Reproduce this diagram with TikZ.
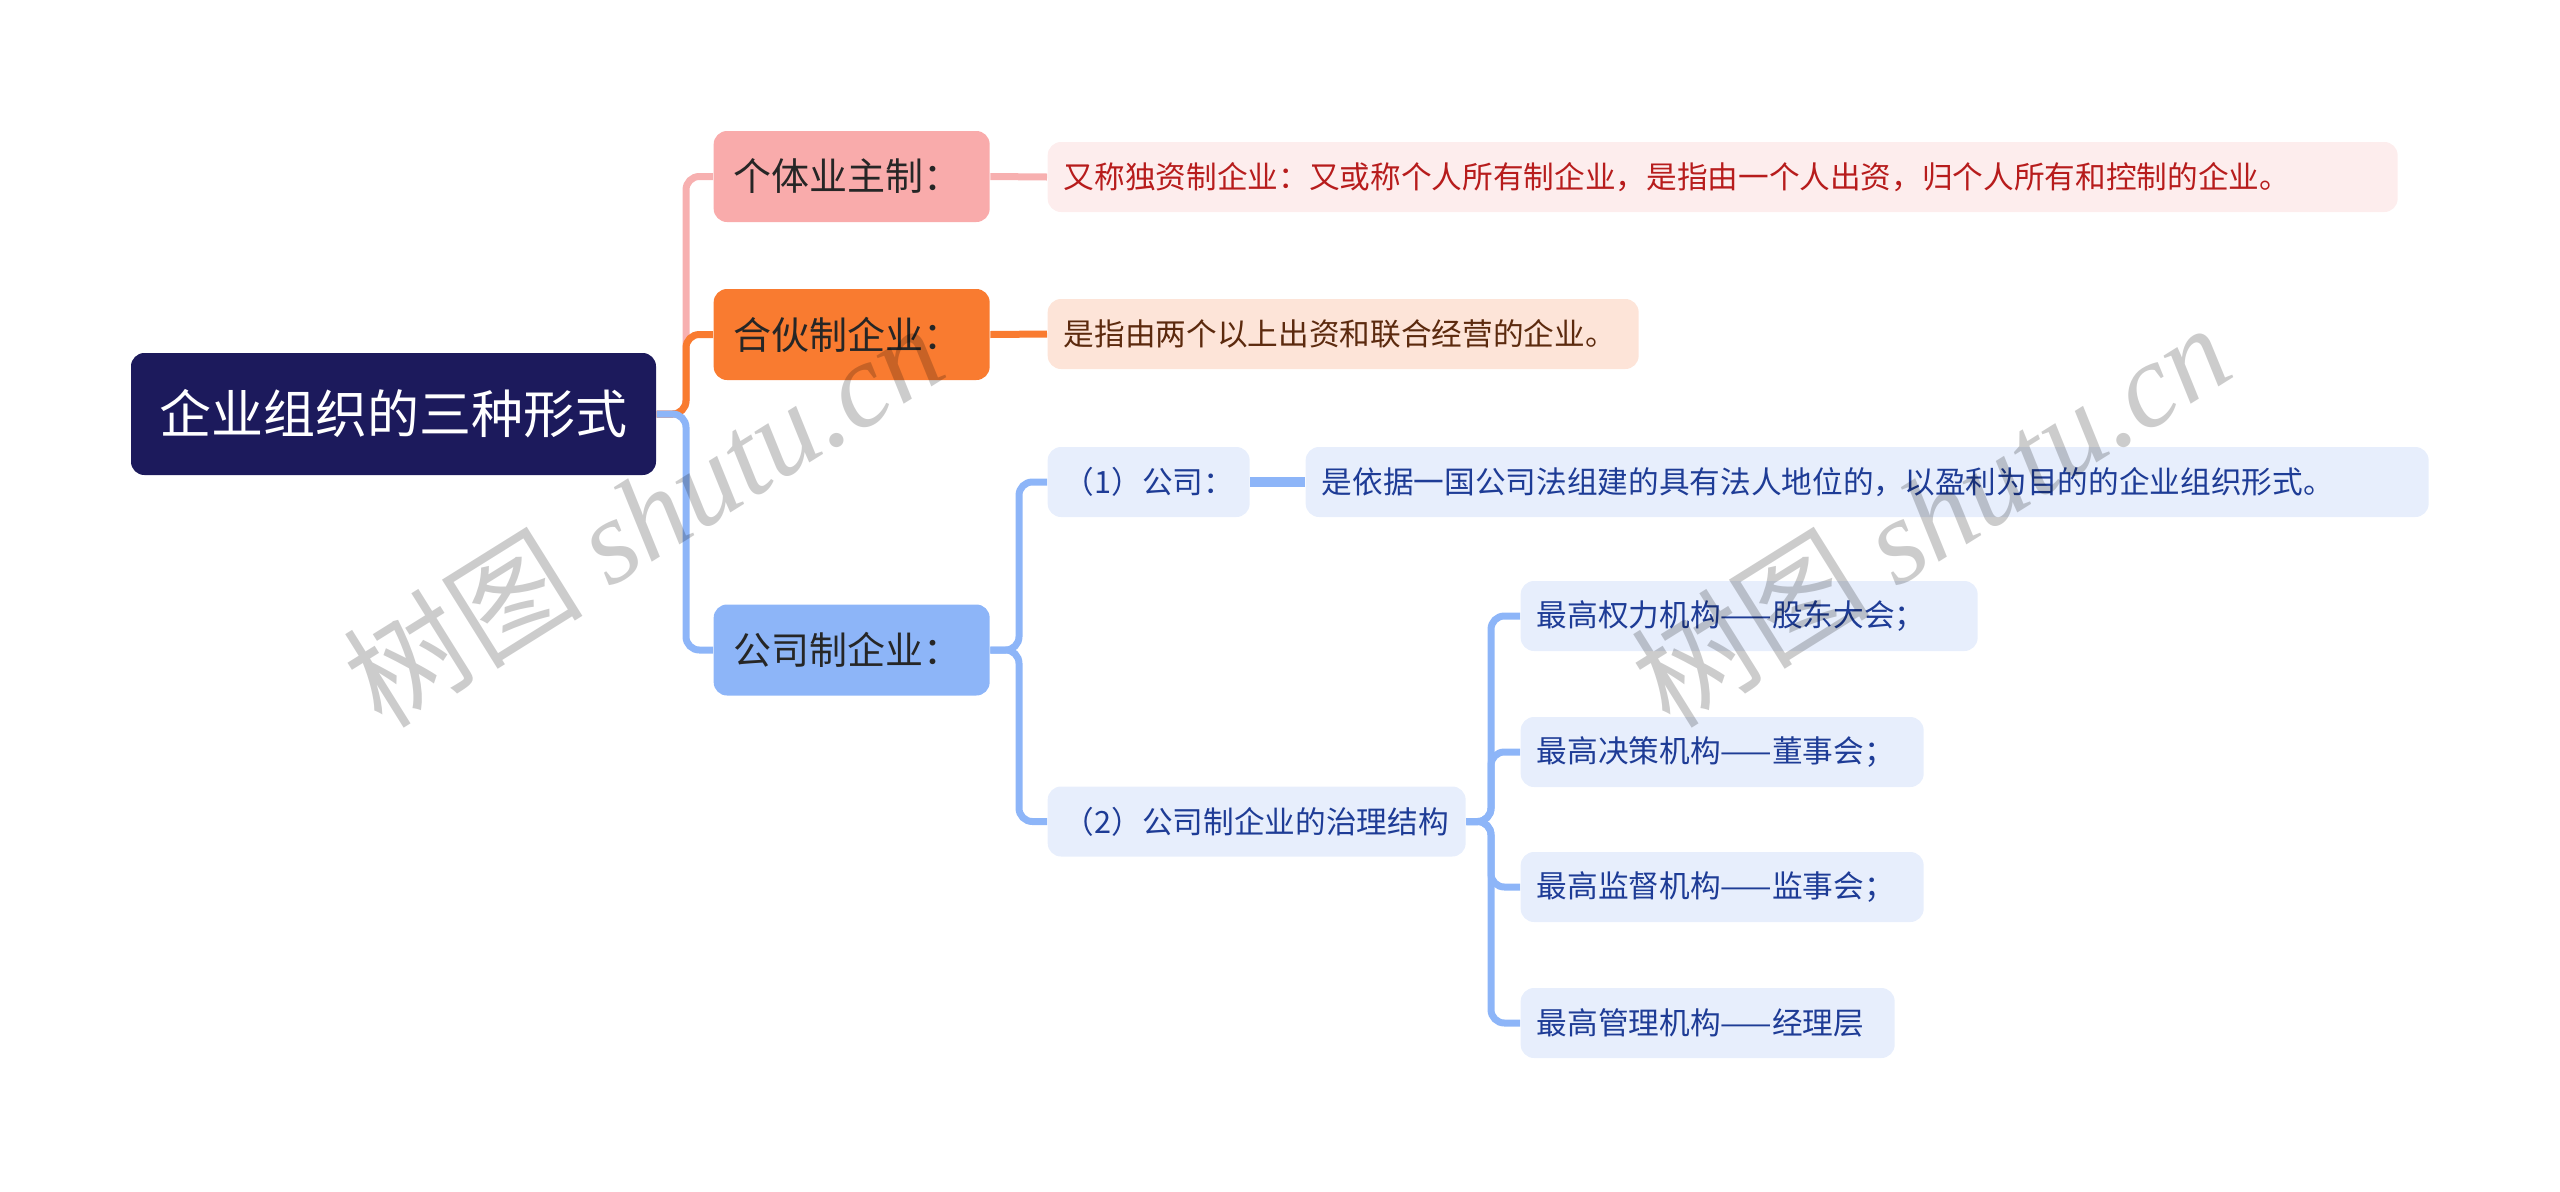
\documentclass[tikz,border=0pt]{standalone}
\usepackage{fontspec}
\setmainfont{Noto Sans CJK SC}
\newfontfamily\wmserif{Liberation Serif}
\usetikzlibrary{positioning}
\definecolor{rootnavy}{HTML}{1C1A5C}
\definecolor{solepink}{HTML}{F9ABAB}
\definecolor{soleline}{HTML}{F7B0B0}
\definecolor{solebg}{HTML}{FDEDED}
\definecolor{soletext}{HTML}{B71C1C}
\definecolor{partorange}{HTML}{F97B30}
\definecolor{partbg}{HTML}{FDE4D8}
\definecolor{parttext}{HTML}{5C2A0E}
\definecolor{corpblue}{HTML}{8DB5F8}
\definecolor{corpbg}{HTML}{E7EEFC}
\definecolor{corptext}{HTML}{1E3C96}

\tikzset{
  rootbox/.style={fill=rootnavy, text=white, rounded corners=4pt,
    minimum width=157.5pt, minimum height=36.6pt, inner sep=0pt,
    font=\fontsize{15.6pt}{18pt}\selectfont},
  branch/.style={anchor=west, rounded corners=4pt, inner xsep=6pt, inner ysep=0pt,
    minimum height=27.3pt, text width=70.8pt, align=left, text=black!85,
    font=\fontsize{11.4pt}{14pt}\selectfont},
  leaf/.style={anchor=west, rounded corners=4pt, inner xsep=4.8pt, inner ysep=0pt,
    minimum height=21pt, align=left, font=\fontsize{9.2pt}{11pt}\selectfont},
  corpleaf/.style={leaf, fill=corpbg, text=corptext},
  link/.style={line width=2.1pt, rounded corners=4pt},
  watermark/.style={rotate=32, text=black, text opacity=0.2,
    font=\fontsize{36pt}{40pt}\selectfont}
}

\begin{document}
\begin{tikzpicture}[x=0.3pt, y=-0.3pt]
  \useasboundingbox (0,0) rectangle (2560,1191);

  % Root
  \node[rootbox] (root) at (393.5,414) {企业组织的三种形式};

  % Three forms
  \node[branch, fill=solepink] (sole) at (713,176.5) {个体业主制：};
  \node[branch, fill=partorange] (part) at (713,334.5) {合伙制企业：};
  \node[branch, fill=corpblue] (corp) at (713,650) {公司制企业：};

  % Descriptions
  \node[leaf, fill=solebg, text=soletext, text width=395.4pt] (soledesc) at (1047,177)
    {又称独资制企业：又或称个人所有制企业，是指由一个人出资，归个人所有和控制的企业。};
  \node[leaf, fill=partbg, text=parttext, text width=167.7pt] (partdesc) at (1047,334)
    {是指由两个以上出资和联合经营的企业。};

  % Company branch
  \node[corpleaf, text width=51pt] (company) at (1047,482) {（1）公司：};
  \node[corpleaf, text width=327.3pt] (companydesc) at (1305,482)
    {是依据一国公司法组建的具有法人地位的，以盈利为目的的企业组织形式。};
  \node[corpleaf, text width=115.8pt] (govern) at (1047,821.5) {（2）公司制企业的治理结构};

  % Governance bodies
  \node[corpleaf, text width=127.5pt] (power) at (1520,616) {最高权力机构——股东大会；};
  \node[corpleaf, text width=111.3pt] (decide) at (1520,752) {最高决策机构——董事会；};
  \node[corpleaf, text width=111.3pt] (supervise) at (1520,887) {最高监督机构——监事会；};
  \node[corpleaf, text width=102.6pt] (manage) at (1520,1023) {最高管理机构——经理层};

  % Connectors
  \draw[link, soleline] (root.east) -- (686,414) |- (sole.west);
  \draw[link, partorange] (root.east) -- (686,414) |- (part.west);
  \draw[link, corpblue] (root.east) -- (686,414) |- (corp.west);

  \draw[link, soleline] (sole.east) -- (soledesc.west);
  \draw[link, partorange] (part.east) -- (partdesc.west);

  \draw[link, corpblue] (corp.east) -- (1019,650) |- (company.west);
  \draw[link, corpblue] (corp.east) -- (1019,650) |- (govern.west);
  \draw[link, corpblue, line width=3pt] (company.east) -- (companydesc.west);

  \foreach \body in {power, decide, supervise, manage}
    \draw[link, corpblue] (govern.east) -- (1491,821.5) |- (\body.west);

  % Watermarks
  \node[watermark] (wmleft) at (643,514) {树图 {\wmserif\itshape shutu.cn}};
  \node[watermark] (wmright) at (1930,514) {树图 {\wmserif\itshape shutu.cn}};
\end{tikzpicture}
\end{document}
